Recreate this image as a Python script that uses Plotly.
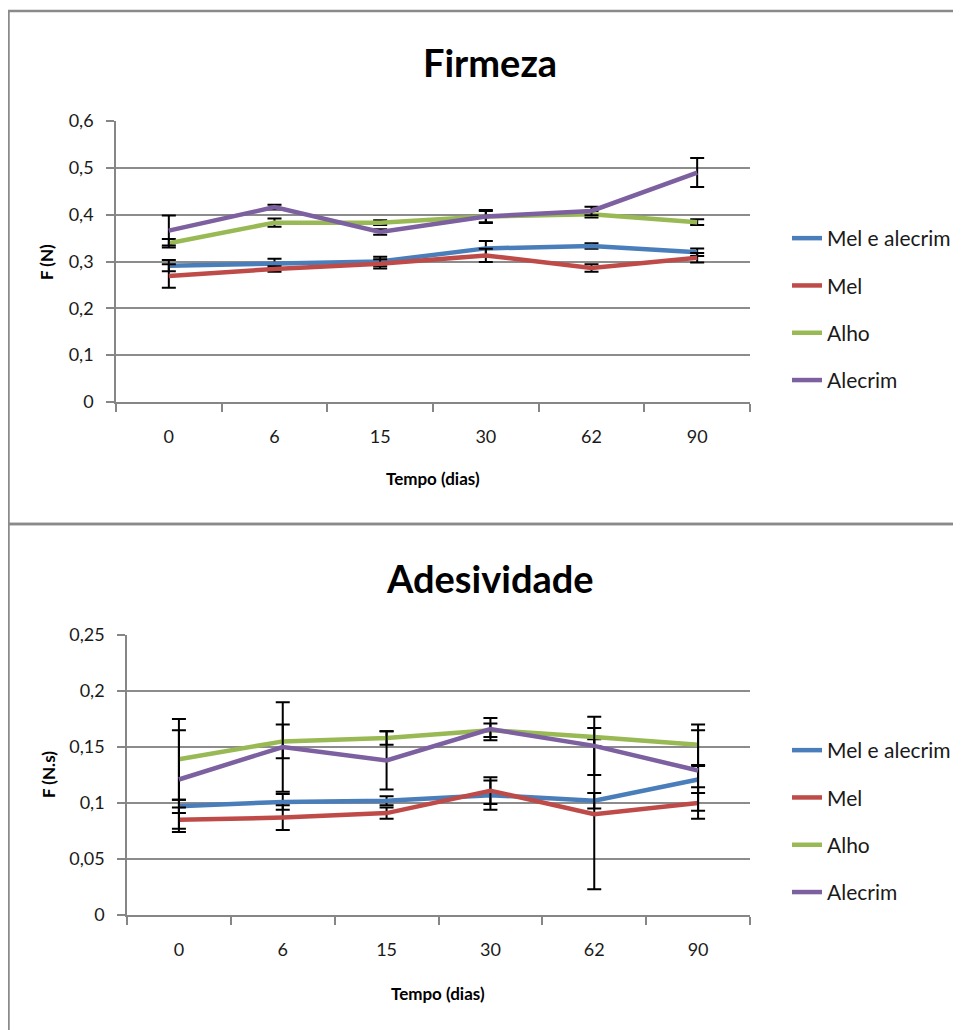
import plotly.graph_objects as go

# page offset of the plot div (default body margin) and figure size
OFF = 8
W, H = 961 - OFF, 1030 - OFF

categories = ["0", "6", "15", "30", "62", "90"]
series_names = ["Mel e alecrim", "Mel", "Alho", "Alecrim"]
colors = ["#4A7EBB", "#BE4B48", "#98B954", "#7D60A0"]

# Firmeza (N)
firm_mel_alecrim = [0.291, 0.296, 0.300, 0.328, 0.333, 0.320]
firm_mel = [0.269, 0.284, 0.295, 0.313, 0.286, 0.308]
firm_alho = [0.339, 0.383, 0.383, 0.396, 0.401, 0.384]
firm_alecrim = [0.366, 0.416, 0.363, 0.396, 0.408, 0.490]
firm_err_mel_alecrim = [0.012, 0.010, 0.010, 0.016, 0.006, 0.008]
firm_err_mel = [0.025, 0.006, 0.010, 0.014, 0.008, 0.010]
firm_err_alho = [0.009, 0.009, 0.005, 0.012, 0.007, 0.006]
firm_err_alecrim = [0.032, 0.005, 0.006, 0.014, 0.009, 0.031]

# Adesividade (N.s)
ades_mel_alecrim = [0.097, 0.101, 0.102, 0.107, 0.102, 0.121]
ades_mel = [0.085, 0.087, 0.091, 0.111, 0.090, 0.100]
ades_alho = [0.139, 0.155, 0.158, 0.165, 0.159, 0.152]
ades_alecrim = [0.121, 0.150, 0.138, 0.166, 0.151, 0.129]
ades_err_mel_alecrim = [0.006, 0.007, 0.004, 0.013, 0.007, 0.012]
ades_err_mel = [0.011, 0.011, 0.005, 0.012, 0.067, 0.014]
ades_err_alho = [0.036, 0.015, 0.006, 0.006, 0.008, 0.018]
ades_err_alecrim = [0.044, 0.040, 0.026, 0.010, 0.026, 0.036]

firm_ticks = [0, 0.1, 0.2, 0.3, 0.4, 0.5, 0.6]
firm_ticktext = ["0", "0,1", "0,2", "0,3", "0,4", "0,5", "0,6"]
ades_ticks = [0, 0.05, 0.1, 0.15, 0.2, 0.25]
ades_ticktext = ["0", "0,05", "0,1", "0,15", "0,2", "0,25"]

FONT = "Lato, Open Sans, sans-serif"


def X(px):
    return (px - OFF) / W


def Y(py):
    return 1 - (py - OFF) / H


fig = go.Figure()

top_vals = [firm_mel_alecrim, firm_mel, firm_alho, firm_alecrim]
top_errs = [firm_err_mel_alecrim, firm_err_mel, firm_err_alho, firm_err_alecrim]
bot_vals = [ades_mel_alecrim, ades_mel, ades_alho, ades_alecrim]
bot_errs = [ades_err_mel_alecrim, ades_err_mel, ades_err_alho, ades_err_alecrim]

for i, name in enumerate(series_names):
    fig.add_trace(go.Scatter(
        x=categories, y=top_vals[i], name=name, mode="lines",
        line=dict(color=colors[i], width=4.5),
        error_y=dict(type="data", array=top_errs[i], visible=True,
                     color="black", thickness=2, width=7),
        xaxis="x", yaxis="y", legend="legend", legendgroup="t%d" % i,
    ))
for i, name in enumerate(series_names):
    fig.add_trace(go.Scatter(
        x=categories, y=bot_vals[i], name=name, mode="lines",
        line=dict(color=colors[i], width=4.5),
        error_y=dict(type="data", array=bot_errs[i], visible=True,
                     color="black", thickness=2, width=7),
        xaxis="x2", yaxis="y2", legend="legend2", legendgroup="b%d" % i,
    ))

axis_common = dict(showline=True, linecolor="#868686", linewidth=1.5,
                   ticks="outside", tickcolor="#868686", ticklen=8, tickwidth=1.5,
                   automargin=False,
                   tickfont=dict(family=FONT, size=18, color="#1a1a1a"))

xcommon = dict(axis_common, type="category", tickson="boundaries",
               showgrid=False, range=[-0.5, 5.5], ticklabelstandoff=18)

ycommon = dict(axis_common, showgrid=True, gridcolor="#8c8c8c", gridwidth=1.5,
               zeroline=False, ticklabelstandoff=9)

legend_common = dict(xanchor="left", yanchor="top",
                     font=dict(family=FONT, size=21, color="#1a1a1a"),
                     tracegroupgap=17, bgcolor="rgba(0,0,0,0)",
                     itemwidth=30)


def label(text, px, py, size, angle=0):
    return dict(text=text, x=X(px), y=Y(py), xref="paper", yref="paper",
                xanchor="center", yanchor="middle", textangle=angle,
                showarrow=False, font=dict(family=FONT, size=size, color="black"))


fig.update_layout(
    width=W, height=H,
    margin=dict(l=0, r=0, t=0, b=0, autoexpand=False),
    paper_bgcolor="white", plot_bgcolor="white",
    font=dict(family=FONT, color="black"),
    xaxis=dict(xcommon, domain=[X(116), X(750)], anchor="y"),
    yaxis=dict(ycommon, domain=[Y(402), Y(121)], anchor="x",
               range=[0, 0.6], tickvals=firm_ticks, ticktext=firm_ticktext),
    xaxis2=dict(xcommon, domain=[X(127), X(750)], anchor="y2"),
    yaxis2=dict(ycommon, domain=[Y(915), Y(635)], anchor="x2",
                range=[0, 0.25], tickvals=ades_ticks, ticktext=ades_ticktext),
    legend=dict(legend_common, x=X(787), y=Y(218)),
    legend2=dict(legend_common, x=X(787), y=Y(730)),
    annotations=[
        label("<b>Firmeza</b>", 490, 62, 38),
        label("<b>Adesividade</b>", 490, 578, 38),
        label("<b>F (N)</b>", 46, 262, 17, -90),
        label("<b>F (N.s)</b>", 48, 775, 17, -90),
        label("<b>Tempo (dias)</b>", 433, 478, 17),
        label("<b>Tempo (dias)</b>", 438, 993, 17),
    ],
    shapes=[
        dict(type="rect", xref="paper", yref="paper", x0=X(8.5), x1=X(975),
             y0=Y(524), y1=Y(11), line=dict(color="#8a8a8a", width=2.5)),
        dict(type="rect", xref="paper", yref="paper", x0=X(8.5), x1=X(975),
             y0=Y(1045), y1=Y(524), line=dict(color="#8a8a8a", width=2.5)),
    ],
)

fig.write_html("out.html")
